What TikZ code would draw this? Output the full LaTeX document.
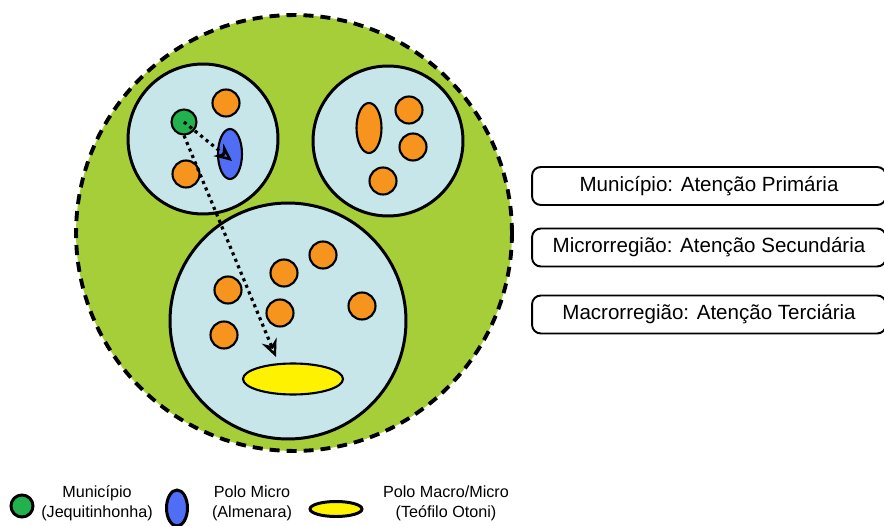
\documentclass[tikz,border=0pt]{standalone}
\usepackage{fontspec}
\setmainfont{Liberation Sans}
\usepackage{xcolor}
\usetikzlibrary{arrows.meta, positioning, shapes.geometric}
\definecolor{macrogreen}{RGB}{166,206,57}
\definecolor{microblue}{RGB}{199,230,234}
\definecolor{munorange}{RGB}{247,148,29}
\definecolor{mungreen}{RGB}{34,177,76}
\definecolor{poloblue}{RGB}{79,109,245}
\definecolor{poloyellow}{RGB}{255,242,0}

\begin{document}
\begin{tikzpicture}[x=0.02cm, y=-0.02cm,
    region/.style={circle, draw, line width=1.7pt, fill=microblue, inner sep=0pt},
    mun/.style={circle, draw, line width=1.2pt, fill=munorange, minimum size=0.54cm, inner sep=0pt},
    polo/.style={ellipse, draw, line width=1.2pt, inner sep=0pt},
    levelbox/.style={draw, rounded corners=5pt, line width=1.1pt, minimum width=7.08cm, minimum height=0.76cm, font=\fontsize{11.7}{14}\selectfont},
    legtext/.style={align=center, font=\fontsize{9.2}{11.3}\selectfont},
    flow/.style={line width=1.8pt, dash pattern=on 1.8pt off 2.2pt, -{Stealth[open, length=10pt, width=9pt, line width=1.4pt]}}]
  \useasboundingbox (0,0) rectangle (884,526);
  % Macrorregiao (dashed outline)
  \node[circle, draw, fill=macrogreen, line width=2.2pt, dash pattern=on 0.2cm off 0.14cm, minimum size=8.72cm]
    (macro) at (294,233) {};
  % Microrregioes
  \node[region, minimum size=3.0cm]  (micro1) at (203,139) {};
  \node[region, minimum size=3.0cm]  (micro2) at (388,141) {};
  \node[region, minimum size=4.72cm] (micro3) at (288,321) {};
  % Microrregiao 1
  \node[mun, fill=mungreen, minimum size=0.5cm] (jeq) at (184,122) {};
  \node[mun] (m11) at (226,103) {};
  \node[mun] (m12) at (186,174) {};
  \node[polo, fill=poloblue, minimum width=0.48cm, minimum height=1.0cm] (alm) at (230,154) {};
  % Microrregiao 2
  \node[polo, fill=munorange, minimum width=0.5cm, minimum height=1.0cm] (p2) at (369,128) {};
  \node[mun] (m21) at (409,110) {};
  \node[mun] (m22) at (413,147) {};
  \node[mun] (m23) at (383,181) {};
  % Microrregiao 3 (Polo Macro/Micro)
  \node[mun] (m31) at (323,255) {};
  \node[mun] (m32) at (284,273) {};
  \node[mun] (m33) at (228,290) {};
  \node[mun] (m34) at (362,306) {};
  \node[mun] (m35) at (280,313) {};
  \node[mun] (m36) at (224,335) {};
  \node[polo, fill=poloyellow, minimum width=2.0cm, minimum height=0.62cm] (teo) at (293,379) {};
  % Fluxos
  \coordinate (almtip) at (232,161);
  \coordinate (teotip) at (276,357);
  \draw[flow] (jeq.center) -- (almtip);
  \draw[flow] (jeq.south) -- (teotip);
  % Niveis de atencao
  \node[levelbox] (b1) at (709,186)   {Município: Atenção Primária};
  \node[levelbox] (b2) at (709,247.5) {Microrregião: Atenção Secundária};
  \node[levelbox] (b3) at (709,314.5) {Macrorregião: Atenção Terciária};
  % Legenda
  \node[circle, draw, line width=1.7pt, fill=mungreen, minimum size=0.44cm, inner sep=0pt] (lg1) at (22,506) {};
  \node[legtext] (lt1) at (97,503) {Município\\(Jequitinhonha)};
  \node[ellipse, draw, line width=1.7pt, fill=poloblue, minimum width=0.42cm, minimum height=0.72cm, inner sep=0pt] (lg2) at (177,508) {};
  \node[legtext] (lt2) at (252,503) {Polo Micro\\(Almenara)};
  \node[ellipse, draw, line width=1.7pt, fill=poloyellow, minimum width=1.04cm, minimum height=0.3cm, inner sep=0pt] (lg3) at (336,509) {};
  \node[legtext] (lt3) at (446,503) {Polo Macro/Micro\\(Teófilo Otoni)};
\end{tikzpicture}
\end{document}
